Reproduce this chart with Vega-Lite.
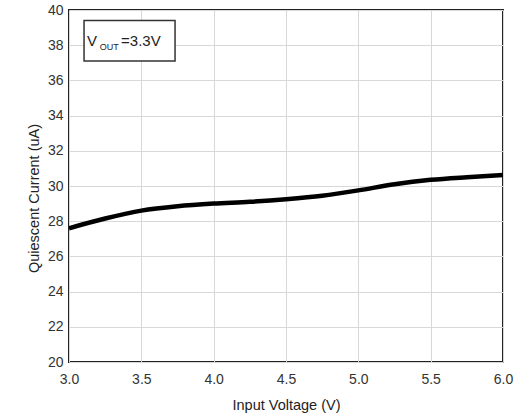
{
  "$schema": "https://vega.github.io/schema/vega-lite/v6.json",
  "autosize": "none",
  "width": 434,
  "height": 352,
  "padding": {"left": 69, "top": 10, "right": 15, "bottom": 54},
  "background": "white",
  "config": {
    "font": "Liberation Sans",
    "view": {"stroke": "#222", "strokeWidth": 2},
    "axis": {
      "labelFont": "Liberation Sans",
      "titleFont": "Liberation Sans",
      "labelFontSize": 14,
      "labelColor": "#333",
      "titleFontSize": 14.5,
      "titleFontWeight": "normal",
      "titleColor": "#222",
      "gridColor": "#d8d8d8",
      "gridWidth": 1,
      "domain": false,
      "ticks": false,
      "labelFlush": false,
      "labelBound": false,
      "labelOverlap": false
    }
  },
  "datasets": {
    "curve": [
      {"vin": 3.0, "iq": 27.6},
      {"vin": 3.25, "iq": 28.15},
      {"vin": 3.5, "iq": 28.6},
      {"vin": 3.75, "iq": 28.85},
      {"vin": 4.0, "iq": 29.0},
      {"vin": 4.25, "iq": 29.1},
      {"vin": 4.5, "iq": 29.25},
      {"vin": 4.75, "iq": 29.45},
      {"vin": 5.0, "iq": 29.75},
      {"vin": 5.25, "iq": 30.1},
      {"vin": 5.5, "iq": 30.35},
      {"vin": 5.75, "iq": 30.5},
      {"vin": 6.0, "iq": 30.62}
    ],
    "box": [{"vin": 3.104, "vin2": 3.733, "iq": 37.1, "iq2": 39.4}],
    "labels": [
      {"vin": 3.125, "iq": 38.25, "t": "V", "kind": "main"},
      {"vin": 3.212, "iq": 37.9, "t": "OUT", "kind": "sub"},
      {"vin": 3.36, "iq": 38.25, "t": "=3.3V", "kind": "main2"}
    ]
  },
  "encoding": {
    "x": {
      "field": "vin", "type": "quantitative",
      "scale": {"domain": [3, 6], "nice": false},
      "axis": {"values": [3, 3.5, 4, 4.5, 5, 5.5, 6], "format": ".1f", "title": "Input Voltage (V)", "labelPadding": 10, "titlePadding": 12}
    },
    "y": {
      "field": "iq", "type": "quantitative",
      "scale": {"domain": [20, 40], "nice": false, "zero": false},
      "axis": {"values": [20, 22, 24, 26, 28, 30, 32, 34, 36, 38, 40], "title": "Quiescent Current (uA)", "labelPadding": 6, "titlePadding": 6, "titleY": 188}
    }
  },
  "layer": [
    {
      "data": {"name": "curve"},
      "mark": {"type": "line", "color": "black", "strokeWidth": 4.5, "interpolate": "monotone", "clip": true}
    },
    {
      "data": {"name": "box"},
      "mark": {"type": "rect", "fill": "white", "stroke": "#333", "strokeWidth": 1.5},
      "encoding": {
        "x2": {"field": "vin2"},
        "y2": {"field": "iq2"}
      }
    },
    {
      "data": {"name": "labels"},
      "transform": [{"filter": "datum.kind != 'sub'"}],
      "mark": {"type": "text", "fontSize": 15, "align": "left", "baseline": "middle", "color": "#222", "font": "Liberation Sans"},
      "encoding": {
        "text": {"field": "t"}
      }
    },
    {
      "data": {"name": "labels"},
      "transform": [{"filter": "datum.kind == 'sub'"}],
      "mark": {"type": "text", "fontSize": 9, "align": "left", "baseline": "middle", "color": "#222", "font": "Liberation Sans"},
      "encoding": {
        "text": {"field": "t"}
      }
    }
  ]
}
